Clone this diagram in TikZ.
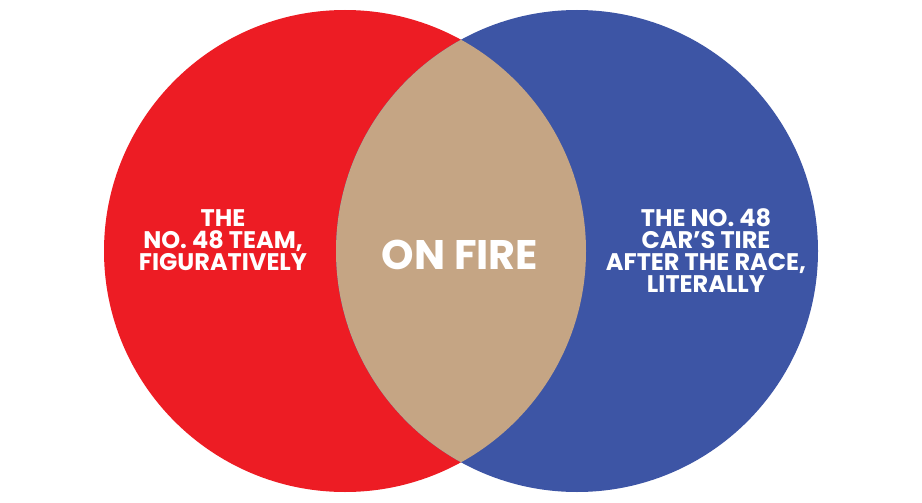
\documentclass[tikz,border=0pt]{standalone}
\usepackage{fontspec}
\setmainfont{Poppins}
\usepackage{tikz}
\usetikzlibrary{positioning}

\definecolor{teamred}{HTML}{ED1C24}
\definecolor{tireblue}{HTML}{3D55A5}
\definecolor{firetan}{HTML}{C5A584}

\begin{document}
\begin{tikzpicture}[x=0.75pt,y=-0.75pt,
		every node/.style={text=white,font=\bfseries,align=center},
		label/.style={font=\fontsize{18}{16.5}\selectfont\bfseries},
		biglabel/.style={font=\fontsize{31}{31}\selectfont\bfseries},
		]
		\useasboundingbox (0,0) rectangle (922,503);
		
		% Circles
		\fill[teamred] (345,251) circle[radius=241];
		\fill[tireblue] (577,251) circle[radius=241];
		
		% Overlap
		\begin{scope}
			\clip (345,251) circle[radius=241];
			\fill[firetan] (577,251) circle[radius=241];
		\end{scope}
		
		% Labels
		\node[label] (left) at (223,240) {THE\\NO. 48 TEAM,\\FIGURATIVELY};
		\node[label] (right) at (706,251) {THE NO. 48\\CAR’S TIRE\\AFTER THE RACE,\\LITERALLY};
		\node[biglabel] (mid) at (460,255) {ON FIRE};
		
	\end{tikzpicture}
\end{document}
